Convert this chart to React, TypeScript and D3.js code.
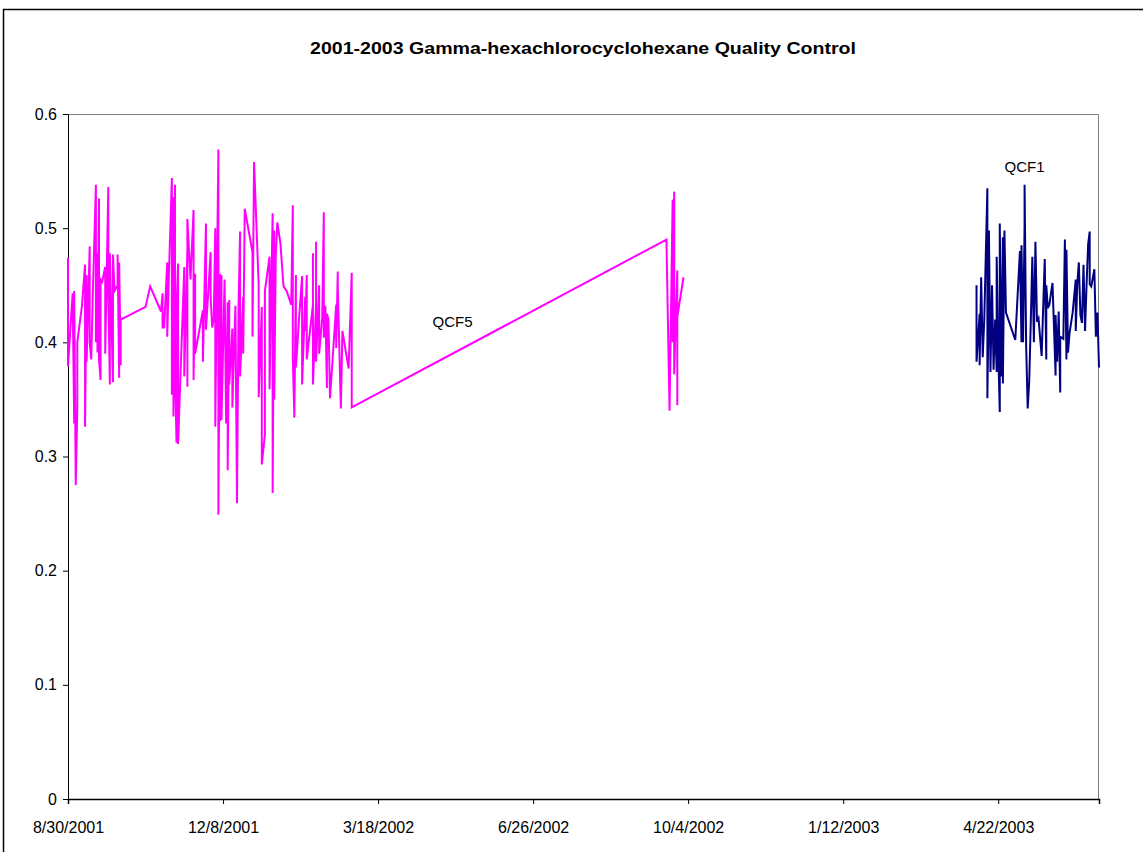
import React, { useEffect, useRef } from 'react';
import * as d3 from 'd3';

// days are counted from 8/30/2001 (first sample)
const START = new Date(2001, 7, 30);
const AXIS_DAYS = 665;
const TICK_DAYS = [0, 100, 200, 300, 400, 500, 600];
const Y_TICKS = [0, 0.1, 0.2, 0.3, 0.4, 0.5, 0.6];

const qcf5Day = [
  0, 0, 3, 4, 4, 5, 6, 6, 9, 11, 11, 12, 12, 14, 14, 15, 16, 18, 18, 19, 19, 20, 20, 21, 21, 22, 24, 24, 26, 26,
  27, 27, 29, 29, 30, 32, 32, 33, 33, 34, 34,
  50, 53, 60,
  61, 61, 62, 64, 64, 65, 67, 67, 68, 68, 69, 69, 70, 70, 71, 71, 75, 75, 77, 77, 77, 79, 81, 81, 82, 82, 87, 87,
  89, 89, 92, 92, 93, 94, 95, 95, 97, 97, 98, 98, 99, 99, 99, 101, 102, 103, 103, 104, 104, 106, 106, 108, 109,
  110, 111, 111, 113, 113, 114, 119, 119, 120, 123, 123, 125, 125, 127, 127, 130, 130, 132, 132, 133, 133, 134,
  135, 137, 139, 141, 144, 145, 145, 146, 147, 147, 149, 151, 151, 153, 153, 154, 154, 158, 158, 158, 160, 160,
  160, 162, 162, 164, 165, 165, 166, 167, 167, 168, 169, 173, 173, 174, 174, 176, 177, 181, 183, 183,
  386, 388, 390, 390, 391, 391, 392, 393, 393, 393, 397,
];
const qcf5Value = [
  0.474, 0.379, 0.443, 0.329, 0.445, 0.275, 0.343, 0.4, 0.432, 0.468, 0.326, 0.459, 0.383, 0.484, 0.4, 0.385, 0.442,
  0.538, 0.4, 0.478, 0.391, 0.526, 0.385, 0.367, 0.455, 0.453, 0.466, 0.39, 0.536, 0.44,
  0.363, 0.478, 0.365, 0.477, 0.445, 0.45, 0.477, 0.369, 0.47, 0.38, 0.42,
  0.431, 0.449, 0.427,
  0.443, 0.413, 0.413, 0.47, 0.405, 0.455, 0.544, 0.354, 0.527, 0.335, 0.538, 0.375, 0.312, 0.43, 0.469, 0.311,
  0.466, 0.37, 0.481, 0.361, 0.508, 0.455, 0.516, 0.367, 0.46, 0.39, 0.428, 0.383,
  0.504, 0.411, 0.479, 0.44, 0.413, 0.42, 0.5, 0.326, 0.569, 0.249, 0.46, 0.331, 0.448, 0.459, 0.332, 0.455, 0.329,
  0.435, 0.288, 0.437, 0.363, 0.412, 0.343, 0.432, 0.259,
  0.43, 0.497, 0.37, 0.44, 0.39, 0.517, 0.479, 0.405, 0.558, 0.45, 0.352, 0.431, 0.293, 0.319, 0.445, 0.475, 0.359,
  0.513, 0.268, 0.498, 0.35, 0.475,
  0.505, 0.487, 0.449, 0.445, 0.433, 0.52, 0.387, 0.334, 0.459, 0.378, 0.42, 0.458, 0.363, 0.44, 0.41, 0.459, 0.385,
  0.433, 0.478, 0.363, 0.433, 0.488,
  0.383, 0.45, 0.39, 0.422, 0.514, 0.404, 0.432, 0.36, 0.425, 0.42, 0.351, 0.433, 0.395, 0.462, 0.449, 0.342, 0.41,
  0.377, 0.461, 0.343,
  0.49, 0.34, 0.525, 0.4, 0.532, 0.372, 0.42, 0.463, 0.345, 0.422, 0.457,
];

const qcf1Day = [
  586, 586, 588, 588, 589, 590, 591, 593, 593, 594, 594, 595, 596, 597, 598, 599, 599, 600, 601, 601, 602, 603, 603,
  604, 605, 611, 614, 615, 615, 616, 617, 617, 618, 619, 620, 621, 622, 623, 624, 625, 626, 628, 630, 631, 631, 632,
  633, 635, 636, 637, 637, 638, 639, 640, 640, 642, 643, 644, 644, 645, 646, 648, 650, 650, 651, 652, 653, 654, 655,
  656, 657, 658, 659, 659, 660, 662, 663, 664, 665,
];
const qcf1Value = [
  0.45, 0.383, 0.425, 0.38, 0.457, 0.387, 0.42, 0.535, 0.351, 0.45, 0.498, 0.374, 0.45, 0.376, 0.42, 0.374, 0.475,
  0.393, 0.339, 0.504, 0.37, 0.492, 0.364,
  0.498, 0.426, 0.402, 0.48, 0.4, 0.485, 0.4, 0.502, 0.538, 0.398, 0.342, 0.366, 0.418, 0.475, 0.4, 0.488, 0.418,
  0.421, 0.388, 0.473, 0.385, 0.45, 0.43,
  0.433, 0.452, 0.412, 0.371, 0.424, 0.383, 0.427, 0.356, 0.405, 0.403, 0.49, 0.385, 0.481, 0.391, 0.408, 0.426,
  0.455, 0.41, 0.451, 0.47, 0.424, 0.417, 0.468,
  0.41, 0.451, 0.486, 0.497, 0.451, 0.449, 0.464, 0.405, 0.426, 0.378,
];

const series = [
  { name: 'QCF5', days: qcf5Day, values: qcf5Value, color: '#FF00FF', labelDay: 248, labelValue: 0.413 },
  { name: 'QCF1', days: qcf1Day, values: qcf1Value, color: '#000080', labelDay: 617, labelValue: 0.549 },
];

const fmt = (d: Date) => `${d.getMonth() + 1}/${d.getDate()}/${d.getFullYear()}`;

export default function App() {
  const svgRef = useRef<SVGSVGElement>(null);
  const width = 1143;
  const height = 852;

  useEffect(() => {
    if (!svgRef.current) return;
    d3.select(svgRef.current).selectAll('*').remove();

    const margin = { top: 114, right: 44, bottom: 53, left: 68 };
    const innerWidth = width - margin.left - margin.right;
    const innerHeight = height - margin.top - margin.bottom;
    const font = '"Liberation Sans", Arial, sans-serif';

    const svg = d3.select(svgRef.current);

    // outer chart frame
    svg
      .append('path')
      .attr('d', `M3.5,${height} V9.5 H${width}`)
      .attr('fill', 'none')
      .attr('stroke', '#000')
      .attr('stroke-width', 1.5);

    svg
      .append('text')
      .attr('x', 583)
      .attr('y', 54)
      .attr('text-anchor', 'middle')
      .attr('textLength', 546)
      .attr('lengthAdjust', 'spacingAndGlyphs')
      .style('font-family', font)
      .style('font-size', '17px')
      .style('font-weight', 'bold')
      .text('2001-2003 Gamma-hexachlorocyclohexane Quality Control');

    const g = svg.append('g').attr('transform', `translate(${margin.left},${margin.top})`);

    const day = (n: number) => d3.timeDay.offset(START, n);

    const xScale = d3
      .scaleTime()
      .domain([START, day(AXIS_DAYS)])
      .range([0, innerWidth]);

    const yScale = d3.scaleLinear().domain([0, 0.6]).range([innerHeight, 0]);

    // plot area border (top / right in grey)
    g.append('path')
      .attr('d', `M0,0.5 H${innerWidth - 0.5} V${innerHeight}`)
      .attr('fill', 'none')
      .attr('stroke', '#808080')
      .attr('stroke-width', 1);

    // Y axis
    const yAxis = g
      .append('g')
      .call(
        d3
          .axisLeft(yScale)
          .tickValues(Y_TICKS)
          .tickSize(5)
          .tickPadding(6)
          .tickFormat((d) => String(+d))
      );
    yAxis.select('.domain').attr('stroke', '#000');
    yAxis.selectAll('text').style('font-family', font).style('font-size', '16px').attr('fill', '#000');

    // X axis
    const xAxis = g
      .append('g')
      .attr('transform', `translate(0,${innerHeight})`)
      .call(
        d3
          .axisBottom(xScale)
          .tickValues(TICK_DAYS.map(day))
          .tickSize(5)
          .tickPadding(18)
          .tickFormat((d) => fmt(d as Date))
      );
    xAxis.select('.domain').attr('stroke', '#000').attr('stroke-width', 1.5);
    xAxis.selectAll('text').style('font-family', font).style('font-size', '16px').attr('fill', '#000');

    // lines
    const line = d3
      .line<[number, number]>()
      .x((d) => xScale(day(d[0])))
      .y((d) => yScale(d[1]));

    series.forEach((s) => {
      const pts = s.days.map((dd, i) => [dd, s.values[i]] as [number, number]);
      g.append('path')
        .datum(pts)
        .attr('d', line)
        .attr('fill', 'none')
        .attr('stroke', s.color)
        .attr('stroke-width', 2)
        .attr('stroke-linejoin', 'miter');

      g.append('text')
        .attr('x', xScale(day(s.labelDay)))
        .attr('y', yScale(s.labelValue))
        .attr('text-anchor', 'middle')
        .style('font-family', font)
        .style('font-size', '15px')
        .text(s.name);
    });
  }, []);

  return (
    <svg
      ref={svgRef}
      width={width}
      height={height}
      style={{ position: 'absolute', left: 0, top: 0, background: '#fff' }}
    />
  );
}
